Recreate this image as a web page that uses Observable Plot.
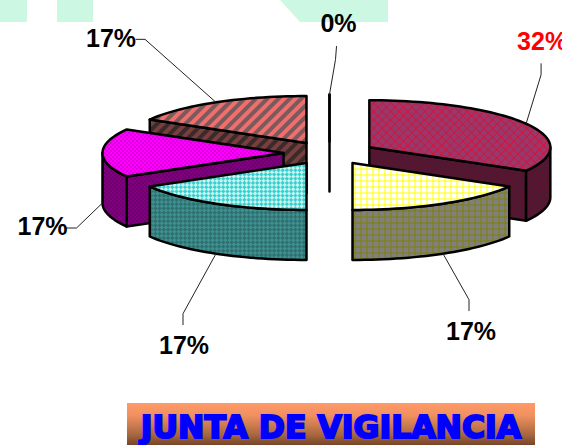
<!DOCTYPE html>
<html><head><meta charset="utf-8">
<script src="https://cdn.jsdelivr.net/npm/d3@7"></script>
<script src="https://cdn.jsdelivr.net/npm/@observablehq/plot@0.6"></script>
<style>
html,body{margin:0;padding:0;background:#fff;width:562px;height:445px;overflow:hidden}
#wrap{position:relative;width:562px;height:445px;overflow:hidden}
.deco{position:absolute;top:0;height:22px;background:#ccf7e3}
#chart{position:absolute;left:0;top:0}
#chart svg{background:transparent;display:block}
#banner{position:absolute;left:127px;top:403px;width:408px;height:42px;
 background:linear-gradient(#ff9a68 0%,#f09060 30%,#a8683f 75%,#75452a 100%);
 color:#0000ff;font:bold 31.5px "DejaVu Sans";-webkit-text-stroke:2px #0000ff;
 text-align:center;line-height:48px;white-space:nowrap;overflow:hidden}
</style></head><body>
<div id="wrap">
<div class="deco" style="left:0;width:27px"></div>
<div class="deco" style="left:57px;width:36px"></div>
<div class="deco" style="left:280px;width:108px;clip-path:polygon(0 0,100% 0,100% 100%,20px 100%)"></div>
<div id="chart"></div>
<div id="banner">JUNTA DE VIGILANCIA</div>
</div>
<script>
// Slices clockwise from 12 o'clock. Sweeps (120° and 60°s).
const sliceNames = ["maroon", "yellow", "teal", "magenta", "brown", "zero"];
const sweepParts = [2, 1, 1, 1, 1, 0];
const percentLabels = [32, 17, 17, 17, 17, 0];

const topFills = ["url(#pMaroon)", "url(#pYellow)", "url(#pTeal)", "url(#pMagenta)", "url(#pBrown)", "#000"];
const sideFills = ["url(#sMaroon)", "url(#sYellow)", "url(#sTeal)", "url(#sMagenta)", "url(#sBrown)", "#000"];
const labelColors = ["#ff0000", "#000", "#000", "#000", "#000", "#000"];
const paintOrder = [0, 1, 4, 3, 2, 5];

// leader elbows and label centres, relative to the slice's rim anchor
const elbowPaths = [
  [[15, -49], [15, -60]],
  [[26, 46], [26, 57]],
  [[-33, 60], [-33, 71]],
  [[-26, 25], [-36, 25]],
  [[-71, -63], [-80, -63]],
  [[6, -35], [7, -48]]
];
const labelOffsets = [[16, -82], [28, 78], [-32, 92], [-60, 24], [-105, -63], [9, -71]];

const W = 562, H = 403;
const CX = 329, CY = 152.5, RX = 181, RY = 47, DEPTH = 50, EXPLODE = 46, EXPLODE_Y = 0.25;
const rad = d => d * Math.PI / 180;
const total = d3.sum(sweepParts);

let acc = 0;
const slices = sliceNames.map((name, i) => {
  const a1 = acc / total * 360;
  acc += sweepParts[i];
  const a2 = acc / total * 360;
  const mid = (a1 + a2) / 2;
  const c = { x: CX + EXPLODE * Math.sin(rad(mid)), y: CY - EXPLODE * EXPLODE_Y * Math.cos(rad(mid)) };
  return { name, i, a1, a2, mid, c };
});

const rim = (s, a, dz = 0) => ({ x: s.c.x + RX * Math.sin(rad(a)), y: s.c.y - RY * Math.cos(rad(a)) + dz });
const arc = (s, a, b, dz = 0) => {
  const pts = [];
  const n = Math.max(1, Math.round((b - a) / 2));
  for (let k = 0; k <= n; k++) pts.push(rim(s, a + (b - a) * k / n, dz));
  return pts;
};
const closed = pts => [...pts, pts[0]];
const topFace = s => closed([s.c, ...arc(s, s.a1, s.a2)]);
const spokeFace = (s, a) => closed([s.c, rim(s, a), rim(s, a, DEPTH), { x: s.c.x, y: s.c.y + DEPTH }]);
const arcFace = (s, a, b) => closed([...arc(s, a, b), ...arc(s, a, b, DEPTH).reverse()]);

const face = (pts, fill) => Plot.line(pts, {
  x: "x", y: "y", fill, stroke: "#000", strokeWidth: 2.5, strokeLinejoin: "round", curve: "linear"
});

const faceMarks = paintOrder.flatMap(idx => {
  const s = slices[idx], out = [], side = sideFills[idx];
  if (s.a1 > 180 && s.a1 <= 360) out.push(face(spokeFace(s, s.a1), side));
  if (s.a2 > 0 && s.a2 < 180) out.push(face(spokeFace(s, s.a2), side));
  const lo = Math.max(s.a1, 90), hi = Math.min(s.a2, 270);
  if (hi > lo) out.push(face(arcFace(s, lo, hi), side));
  out.push(face(topFace(s), topFills[idx]));
  return out;
});

const anchorOf = s => {
  const p = rim(s, s.mid);
  return (s.mid > 90 && s.mid <= 270) ? { x: p.x, y: p.y + DEPTH } : p;
};
const leaderMarks = slices.map((s, i) => {
  const p = anchorOf(s);
  const pts = [p, ...elbowPaths[i].map(([dx, dy]) => ({ x: p.x + dx, y: p.y + dy }))];
  return Plot.line(pts, { x: "x", y: "y", stroke: "#222", strokeWidth: 1, curve: "linear" });
});
const labelRows = slices.map((s, i) => {
  const p = anchorOf(s);
  return { x: p.x + labelOffsets[i][0], y: p.y + labelOffsets[i][1], text: percentLabels[i] + "%", color: labelColors[i] };
});

const pat = (id, w, h, rot, body) =>
  `<pattern id="${id}" patternUnits="userSpaceOnUse" width="${w}" height="${h}"${rot ? ` patternTransform="rotate(${rot})"` : ""}>${body}</pattern>`;
const lattice = (bg, fg, n) => `<rect width="${n}" height="${n}" fill="${bg}"/><path d="M0.5 0V${n}M0 0.5H${n}" stroke="${fg}" stroke-width="1"/>`;
const checker = (a, b, n) => `<rect width="${n}" height="${n}" fill="${a}"/><rect width="${n/2}" height="${n/2}" fill="${b}"/><rect x="${n/2}" y="${n/2}" width="${n/2}" height="${n/2}" fill="${b}"/>`;
const dots = (bg, fg) => `<rect width="4" height="4" fill="${bg}"/><rect width="1" height="1" fill="${fg}"/><rect x="2" y="2" width="1" height="1" fill="${fg}"/>`;
const stripes = (a, b, n) => `<rect width="${n}" height="${n}" fill="${a}"/><rect width="${n/2}" height="${n}" fill="${b}"/>`;

const defsHtml = [
  pat("pMaroon", 6, 6, 45, lattice("#963a6c", "#d0143f", 6)),
  pat("sMaroon", 6, 6, 45, lattice("#4d1a36", "#640f28", 6)),
  pat("pYellow", 6, 6, 0, lattice("#ffffff", "#ffff00", 6)),
  pat("sYellow", 6, 6, 0, lattice("#808080", "#808000", 6)),
  pat("pTeal", 6, 6, 45, checker("#38cfcf", "#c8f4f0", 6)),
  pat("sTeal", 6, 6, 45, checker("#2f6f6f", "#3f9090", 6)),
  pat("pMagenta", 4, 4, 0, dots("#ff00ff", "#800080")),
  pat("sMagenta", 4, 4, 0, dots("#800080", "#400040")),
  pat("pBrown", 8, 8, 45, stripes("#f06e6e", "#7a5a5a", 8)),
  pat("sBrown", 8, 8, 45, stripes("#3a2a2a", "#7a3e3e", 8))
].join("");

const defsMark = () => d3.create("svg:defs").html(defsHtml).node();

const plot = Plot.plot({
  width: W, height: H, margin: 0,
  x: { domain: [0, W], range: [0, W], axis: null },
  y: { domain: [0, H], range: [0, H], axis: null },
  style: { background: "transparent" },
  marks: [
    defsMark,
    ...faceMarks,
    ...leaderMarks,
    Plot.text(labelRows, {
      x: "x", y: "y", text: "text", fill: "color",
      fontFamily: "Liberation Sans", fontWeight: "bold", fontSize: 25, textAnchor: "middle", lineAnchor: "middle"
    })
  ]
});
document.getElementById("chart").appendChild(plot);
</script>
</body></html>
